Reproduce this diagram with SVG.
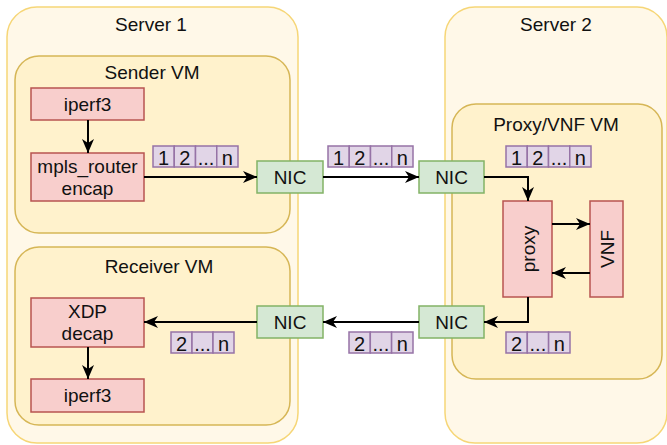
<svg xmlns="http://www.w3.org/2000/svg" width="667" height="445" viewBox="0 0 667 445">
  <style>
    text { font-family: "Liberation Sans", Arial, sans-serif; font-size: 19px; fill: #111; text-anchor: middle; }
    .pk text, text.pk { font-size: 20px; }
    .server { fill: #fff8e8; stroke: #f6d677; stroke-width: 1.5; }
    .vm { fill: #fff2cc; stroke: #d6b656; stroke-width: 1.5; }
    .proc { fill: #f8cecc; stroke: #b85450; stroke-width: 1.5; }
    .nic { fill: #d5e8d4; stroke: #82b366; stroke-width: 1.5; }
    .pkt { fill: #e1d5e7; stroke: #9673a6; stroke-width: 1.5; }
    .wire { fill: none; stroke: #000; stroke-width: 2; marker-end: url(#arrow); }
  </style>
  <defs>
    <marker id="arrow" viewBox="0 0 14 12" refX="14" refY="6" markerWidth="14" markerHeight="12" markerUnits="userSpaceOnUse" orient="auto">
      <path d="M0,0 L14,6 L0,12 L4,6 Z" fill="#000"/>
    </marker>
  </defs>

  <!-- hosts -->
  <g id="server1">
    <rect class="server" x="7" y="7" width="291" height="436" rx="30"/>
    <text x="151" y="31">Server 1</text>
  </g>
  <g id="server2">
    <rect class="server" x="445" y="7" width="222" height="436" rx="30"/>
    <text x="556" y="31">Server 2</text>
  </g>

  <!-- virtual machines -->
  <g id="sender-vm">
    <rect class="vm" x="15" y="56" width="275" height="177" rx="24"/>
    <text x="152" y="79">Sender VM</text>
  </g>
  <g id="receiver-vm">
    <rect class="vm" x="15" y="247" width="275" height="178" rx="24"/>
    <text x="159" y="273">Receiver VM</text>
  </g>
  <g id="proxy-vm">
    <rect class="vm" x="452" y="104" width="210" height="275" rx="24"/>
    <text x="556" y="131">Proxy/VNF VM</text>
  </g>

  <!-- processes -->
  <g id="iperf3-send">
    <rect class="proc" x="31" y="88" width="113" height="32"/>
    <text x="87.5" y="111">iperf3</text>
  </g>
  <g id="mpls-encap">
    <rect class="proc" x="31" y="153" width="113" height="48"/>
    <text x="87.5" y="173">mpls_router</text>
    <text x="87.5" y="195">encap</text>
  </g>
  <g id="xdp-decap">
    <rect class="proc" x="31" y="298" width="113" height="49"/>
    <text x="87.5" y="318">XDP</text>
    <text x="87.5" y="340">decap</text>
  </g>
  <g id="iperf3-recv">
    <rect class="proc" x="31" y="379" width="113" height="33"/>
    <text x="87.5" y="402">iperf3</text>
  </g>
  <g id="proxy">
    <rect class="proc" x="503" y="201" width="49" height="96"/>
    <text transform="translate(527.5,249) rotate(-90)" y="7">proxy</text>
  </g>
  <g id="vnf">
    <rect class="proc" x="590" y="201" width="33" height="96"/>
    <text transform="translate(606.5,249) rotate(-90)" y="7">VNF</text>
  </g>

  <!-- network interfaces -->
  <g id="nic-s1-out">
    <rect class="nic" x="257" y="161" width="66" height="32"/>
    <text x="290" y="184">NIC</text>
  </g>
  <g id="nic-s2-in">
    <rect class="nic" x="419" y="161" width="65" height="32"/>
    <text x="451.5" y="184">NIC</text>
  </g>
  <g id="nic-s2-out">
    <rect class="nic" x="419" y="306" width="65" height="32"/>
    <text x="451.5" y="329">NIC</text>
  </g>
  <g id="nic-s1-in">
    <rect class="nic" x="257" y="306" width="66" height="32"/>
    <text x="290" y="329">NIC</text>
  </g>

  <!-- packet labels -->
  <g id="pkt-encap" class="pk">
    <rect class="pkt" x="153" y="146" width="21.25" height="21"/>
    <rect class="pkt" x="174.25" y="146" width="21.25" height="21"/>
    <rect class="pkt" x="195.5" y="146" width="21.25" height="21"/>
    <rect class="pkt" x="216.75" y="146" width="21.25" height="21"/>
    <text x="163.6" y="165">1</text><text x="184.9" y="165">2</text><text x="206.1" y="165">...</text><text x="227.4" y="165">n</text>
  </g>
  <g id="pkt-wire-out" class="pk">
    <rect class="pkt" x="328" y="146" width="21.25" height="21"/>
    <rect class="pkt" x="349.25" y="146" width="21.25" height="21"/>
    <rect class="pkt" x="370.5" y="146" width="21.25" height="21"/>
    <rect class="pkt" x="391.75" y="146" width="21.25" height="21"/>
    <text x="338.6" y="165">1</text><text x="359.9" y="165">2</text><text x="381.1" y="165">...</text><text x="402.4" y="165">n</text>
  </g>
  <g id="pkt-proxy-in" class="pk">
    <rect class="pkt" x="506" y="146" width="21.25" height="21"/>
    <rect class="pkt" x="527.25" y="146" width="21.25" height="21"/>
    <rect class="pkt" x="548.5" y="146" width="21.25" height="21"/>
    <rect class="pkt" x="569.75" y="146" width="21.25" height="21"/>
    <text x="516.6" y="165">1</text><text x="537.9" y="165">2</text><text x="559.1" y="165">...</text><text x="580.4" y="165">n</text>
  </g>
  <g id="pkt-proxy-out" class="pk">
    <rect class="pkt" x="506" y="332" width="21.3" height="21"/>
    <rect class="pkt" x="527.3" y="332" width="21.3" height="21"/>
    <rect class="pkt" x="548.6" y="332" width="21.4" height="21"/>
    <text x="516.6" y="351">2</text><text x="537.9" y="351">...</text><text x="559.3" y="351">n</text>
  </g>
  <g id="pkt-wire-back" class="pk">
    <rect class="pkt" x="349" y="332" width="21.3" height="21"/>
    <rect class="pkt" x="370.3" y="332" width="21.3" height="21"/>
    <rect class="pkt" x="391.6" y="332" width="21.4" height="21"/>
    <text x="359.6" y="351">2</text><text x="380.9" y="351">...</text><text x="402.3" y="351">n</text>
  </g>
  <g id="pkt-decap" class="pk">
    <rect class="pkt" x="171" y="332" width="21" height="21"/>
    <rect class="pkt" x="192" y="332" width="21" height="21"/>
    <rect class="pkt" x="213" y="332" width="21" height="21"/>
    <text x="181.5" y="351">2</text><text x="202.5" y="351">...</text><text x="223.5" y="351">n</text>
  </g>

  <!-- connectors -->
  <g id="connectors">
    <path class="wire" d="M88,120 L88,153"/>
    <path class="wire" d="M144,177 L257,177"/>
    <path class="wire" d="M323,177 L419,177"/>
    <path class="wire" d="M484,177 L528,177 L528,201"/>
    <path class="wire" d="M552,224 L590,224"/>
    <path class="wire" d="M590,273 L552,273"/>
    <path class="wire" d="M528,297 L528,322 L484,322"/>
    <path class="wire" d="M419,322 L323,322"/>
    <path class="wire" d="M257,322 L144,322"/>
    <path class="wire" d="M88,347 L88,379"/>
  </g>
</svg>
